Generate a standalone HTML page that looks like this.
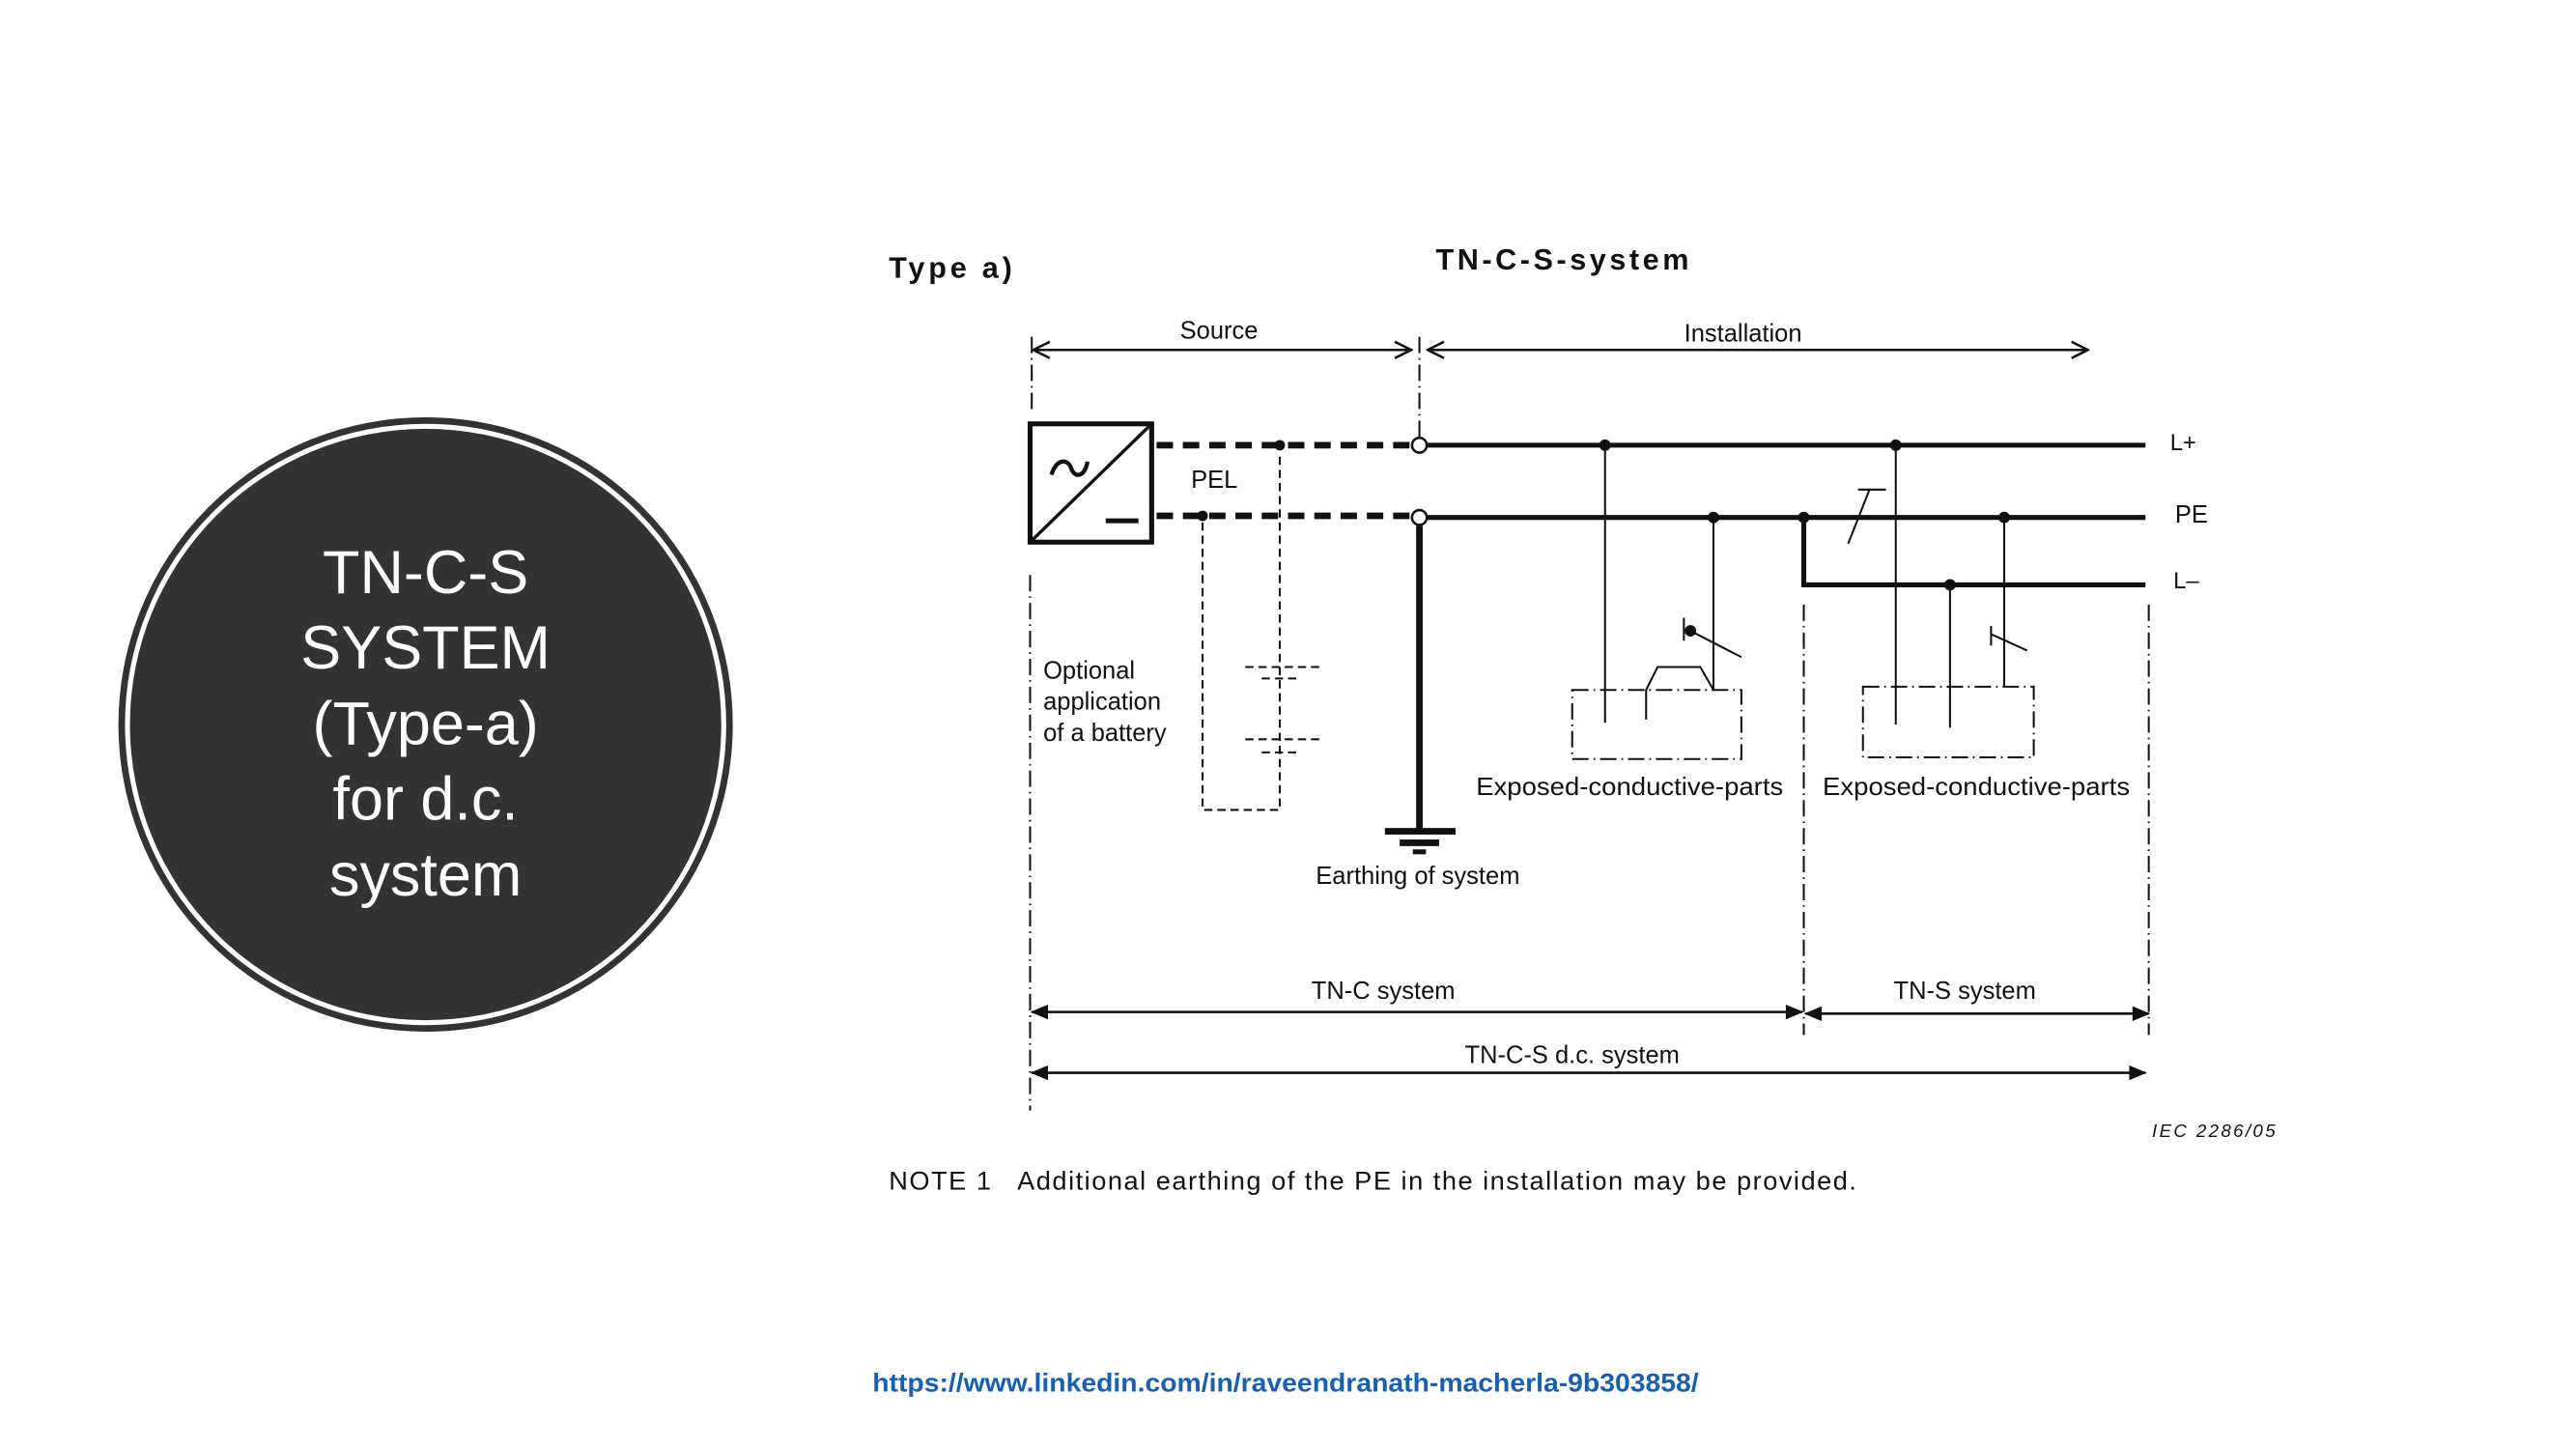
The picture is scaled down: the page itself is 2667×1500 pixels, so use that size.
<!DOCTYPE html>
<html><head><meta charset="utf-8"><style>
html,body{margin:0;padding:0;background:#fff;}
svg{display:block;}
text{font-family:"Liberation Sans",Arial,sans-serif;fill:#111;}
</style></head><body>
<svg width="2667" height="1500" viewBox="0 0 1568 882" xmlns="http://www.w3.org/2000/svg">
<defs>
<marker id="open" viewBox="0 0 12 12" refX="11" refY="6" markerWidth="12" markerHeight="12" markerUnits="userSpaceOnUse" orient="auto-start-reverse"><path d="M1,1 L11,6 L1,11" fill="none" stroke="#111" stroke-width="1.5"/></marker>
<marker id="fill" viewBox="0 0 12 10" refX="11" refY="5" markerWidth="11" markerHeight="9" markerUnits="userSpaceOnUse" orient="auto-start-reverse"><path d="M0,0 L12,5 L0,10 Z" fill="#111"/></marker>
</defs>
<rect width="1568" height="882" fill="#fff"/>

<!-- circle -->
<circle cx="259" cy="441" r="185" fill="#fff" stroke="#333" stroke-width="4"/>
<circle cx="259" cy="441" r="180" fill="#333"/>
<g font-size="37" text-anchor="middle">
<text x="259" y="361" style="fill:#fff">TN-C-S</text>
<text x="259" y="407" style="fill:#fff">SYSTEM</text>
<text x="259" y="453" style="fill:#fff">(Type-a)</text>
<text x="259" y="499" style="fill:#fff">for d.c.</text>
<text x="259" y="545" style="fill:#fff">system</text>
</g>

<!-- titles -->
<text x="541" y="169" font-size="18" font-weight="bold" textLength="75" lengthAdjust="spacing">Type a)</text>
<text x="874" y="164" font-size="18" font-weight="bold" textLength="154" lengthAdjust="spacing">TN-C-S-system</text>

<!-- source / installation arrows -->
<text x="742" y="206" font-size="15" text-anchor="middle">Source</text>
<line x1="629" y1="213" x2="859" y2="213" stroke="#111" stroke-width="1.5" marker-start="url(#open)" marker-end="url(#open)"/>
<text x="1061" y="208" font-size="15" text-anchor="middle">Installation</text>
<line x1="869" y1="213" x2="1271" y2="213" stroke="#111" stroke-width="1.5" marker-start="url(#open)" marker-end="url(#open)"/>

<!-- dash-dot verticals -->
<g stroke="#111" stroke-width="1.2" fill="none" stroke-dasharray="10,3,1,3">
<line x1="628" y1="205" x2="628" y2="252"/>
<line x1="627" y1="350" x2="627" y2="676"/>
<line x1="864" y1="205" x2="864" y2="266"/>
<line x1="1098" y1="368" x2="1098" y2="630"/>
<line x1="1308" y1="368" x2="1308" y2="630"/>
</g>

<!-- source box -->
<rect x="627" y="258" width="74" height="72" fill="none" stroke="#111" stroke-width="3"/>
<line x1="627" y1="330" x2="701" y2="258" stroke="#111" stroke-width="2"/>
<path d="M640,289 C643,279 650,279 652,285 C654,291 660,291 662,281" fill="none" stroke="#111" stroke-width="2.5"/>
<line x1="673" y1="317" x2="693" y2="317" stroke="#111" stroke-width="3"/>

<!-- dashed thick conductors -->
<g stroke="#111" stroke-width="4" stroke-dasharray="10,6">
<line x1="704" y1="271" x2="859" y2="271"/>
<line x1="704" y1="314" x2="859" y2="314"/>
</g>
<text x="725" y="297" font-size="15">PEL</text>

<!-- solid conductors -->
<g stroke="#111" stroke-width="3">
<line x1="869" y1="271" x2="1306" y2="271"/>
<line x1="869" y1="315" x2="1306" y2="315"/>
<polyline points="1098,315 1098,356 1306,356" fill="none"/>
</g>
<circle cx="864" cy="271" r="4.5" fill="#fff" stroke="#111" stroke-width="1.5"/>
<circle cx="864" cy="315" r="4.5" fill="#fff" stroke="#111" stroke-width="1.5"/>
<text x="1321" y="274" font-size="14">L+</text>
<text x="1324" y="318" font-size="15">PE</text>
<text x="1323" y="358" font-size="14">L–</text>

<!-- earth -->
<line x1="864" y1="320" x2="864" y2="505" stroke="#111" stroke-width="4"/>
<rect x="843" y="504" width="43" height="4" fill="#111"/>
<rect x="852" y="511" width="24" height="4" fill="#111"/>
<rect x="860" y="517" width="8" height="3" fill="#111"/>
<text x="863" y="538" font-size="15" text-anchor="middle">Earthing of system</text>

<!-- battery -->
<g stroke="#111" stroke-width="1.2" fill="none" stroke-dasharray="5,3">
<polyline points="732,318 732,493 779,493 779,275"/>
<line x1="758" y1="406" x2="803" y2="406"/>
<line x1="768" y1="413" x2="790" y2="413"/>
<line x1="758" y1="450" x2="803" y2="450"/>
<line x1="768" y1="458" x2="790" y2="458"/>
</g>
<circle cx="779" cy="271" r="3.2" fill="#111"/>
<circle cx="732" cy="314" r="3.2" fill="#111"/>
<text font-size="15"><tspan x="635" y="413">Optional</tspan><tspan x="635" y="432">application</tspan><tspan x="635" y="451">of a battery</tspan></text>

<!-- exposed parts 1 -->
<g stroke="#111" stroke-width="1.2" fill="none">
<rect x="957" y="420" width="103" height="42" stroke-dasharray="10,3,1,3"/>
<line x1="977" y1="271" x2="977" y2="440"/>
<line x1="1043" y1="315" x2="1043" y2="420"/>
<polyline points="1002,438 1002,420 1009,406 1035,406 1043,420"/>
<line x1="1025" y1="376" x2="1025" y2="390"/>
<line x1="1029" y1="384" x2="1060" y2="400"/>
</g>
<circle cx="1029" cy="384" r="3.5" fill="#111"/>
<circle cx="977" cy="271" r="3.5" fill="#111"/>
<circle cx="1043" cy="315" r="3.5" fill="#111"/>
<text x="992" y="484" font-size="15" text-anchor="middle" textLength="187" lengthAdjust="spacingAndGlyphs">Exposed-conductive-parts</text>

<!-- exposed parts 2 -->
<g stroke="#111" stroke-width="1.2" fill="none">
<rect x="1134" y="418" width="104" height="43" stroke-dasharray="10,3,1,3"/>
<line x1="1154" y1="271" x2="1154" y2="441"/>
<line x1="1187" y1="356" x2="1187" y2="443"/>
<line x1="1220" y1="315" x2="1220" y2="418"/>
<line x1="1212" y1="381" x2="1212" y2="393"/>
<line x1="1212" y1="386" x2="1234" y2="396"/>
<line x1="1125" y1="331" x2="1138" y2="298"/>
<line x1="1131" y1="298" x2="1148" y2="298"/>
</g>
<circle cx="1154" cy="271" r="3.5" fill="#111"/>
<circle cx="1098" cy="315" r="3.5" fill="#111"/>
<circle cx="1220" cy="315" r="3.5" fill="#111"/>
<circle cx="1187" cy="356" r="3.5" fill="#111"/>
<text x="1203" y="484" font-size="15" text-anchor="middle" textLength="187" lengthAdjust="spacingAndGlyphs">Exposed-conductive-parts</text>

<!-- bottom arrows -->
<text x="842" y="608" font-size="15" text-anchor="middle">TN-C system</text>
<line x1="628" y1="616" x2="1097" y2="616" stroke="#111" stroke-width="1.5" marker-start="url(#fill)" marker-end="url(#fill)"/>
<text x="1196" y="608" font-size="15" text-anchor="middle">TN-S system</text>
<line x1="1099" y1="617" x2="1308" y2="617" stroke="#111" stroke-width="1.5" marker-start="url(#fill)" marker-end="url(#fill)"/>
<text x="957" y="647" font-size="15" text-anchor="middle">TN-C-S d.c. system</text>
<line x1="628" y1="653" x2="1306" y2="653" stroke="#111" stroke-width="1.5" marker-start="url(#fill)" marker-end="url(#fill)"/>

<text x="1310" y="692" font-size="11" font-style="italic" textLength="75" lengthAdjust="spacing">IEC   2286/05</text>
<text x="541" y="724" font-size="16" textLength="589" lengthAdjust="spacing" xml:space="preserve">NOTE 1   Additional earthing of the PE in the installation may be provided.</text>

<text x="531" y="847" font-size="16" font-weight="bold" textLength="503" lengthAdjust="spacingAndGlyphs" style="fill:#1a5fae">https://www.linkedin.com/in/raveendranath-macherla-9b303858/</text>
</svg>
</body></html>
